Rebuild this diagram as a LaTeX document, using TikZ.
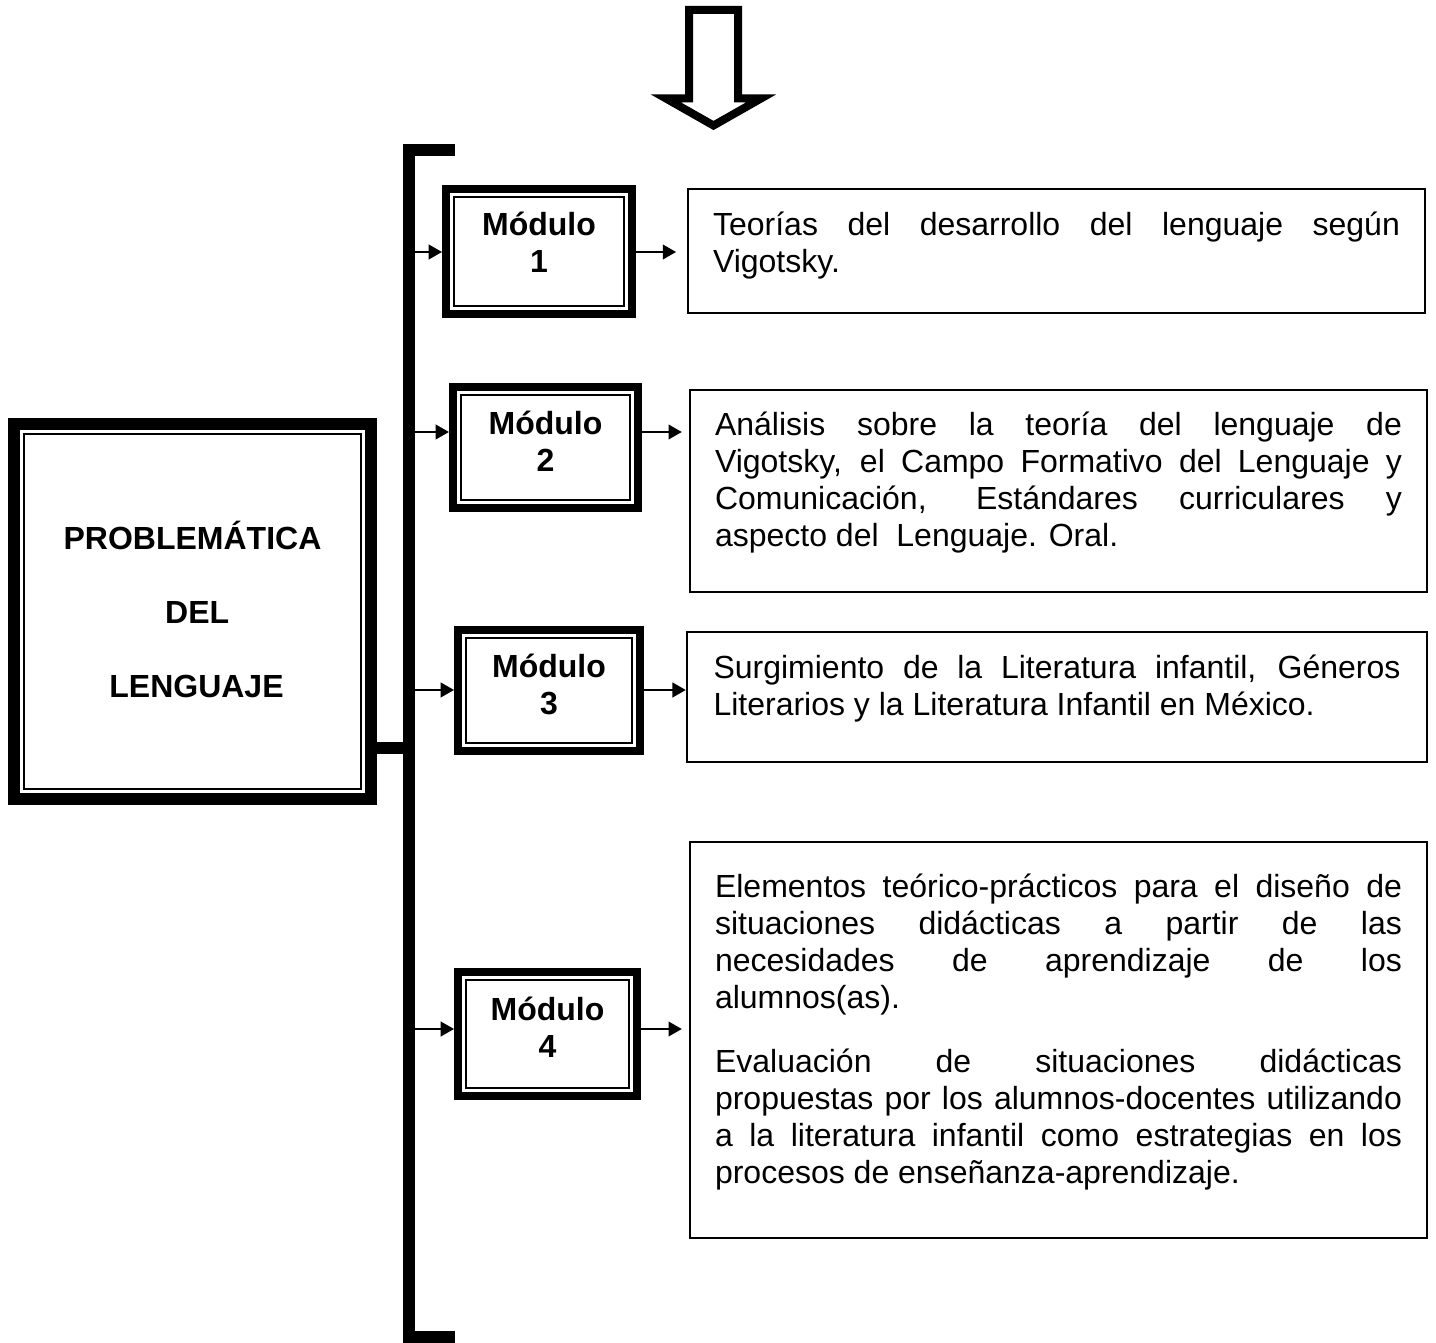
\documentclass[tikz,border=0pt]{standalone}
\usepackage{fontspec}
\setmainfont{Liberation Sans}
\usetikzlibrary{arrows.meta}

\tolerance=9999
\hyphenpenalty=10000
\exhyphenpenalty=10000

\tikzset{every picture/.style={line width=0.75pt}}
\tikzset{
  bigbox/.style={draw, line width=4.5pt, inner sep=0pt, align=center, text depth=2pt,
    font=\fontsize{12pt}{27.75pt}\selectfont\bfseries},
  modbox/.style={draw, line width=3pt, inner sep=0pt, align=center, text depth=5pt,
    font=\fontsize{12pt}{13.875pt}\selectfont\bfseries},
  textbox/.style={draw, line width=0.9pt, inner xsep=9.4pt, inner ysep=0pt,
    text width=257.6pt, align=justify, font=\fontsize{12pt}{13.875pt}\selectfont,
    execute at end node={\par\vspace*{#1}}},
  textbox/.default=6pt,
  thinline/.style={line width=0.75pt},
  arr/.style={line width=0.75pt, -{Triangle[length=5pt,width=5.5pt]}}
}

\begin{document}
\begin{tikzpicture}[x=0.75pt,y=0.75pt,yscale=-0.5,xscale=0.5]
\useasboundingbox (0,0) rectangle (1436,1343);

%Shape: Down Arrow
\draw [line width=3pt, line join=miter] (689,10) -- (738,10) -- (738,98.5) -- (761,98.5) -- (713.5,125.5) -- (666,98.5) -- (689,98.5) -- cycle ;
%Shape: Bracket
\draw [line width=4.5pt, line join=miter] (455,150) -- (409,150) -- (409,1337) -- (455,1337) ;

%Shape: Rectangle [problem]
\node [bigbox, minimum width=133.9pt, minimum height=140.6pt] (prob) at (192.5,611.5) {PROBLEMÁTICA\hspace{3.5pt}\\\hspace{3.5pt}DEL\\\hspace{3pt}LENGUAJE};
\draw [thinline] ([shift={(16,16)}]prob.north west) rectangle ([shift={(-16,-16)}]prob.south east) ;

%Shape: Rectangle [modules]
\node [modbox, minimum width=69.75pt, minimum height=46.9pt, text depth=7pt] (m1) at (539,251.5) {Módulo\\1};
\node [modbox, minimum width=69.4pt, minimum height=45.4pt] (m2) at (545.5,447.5) {Módulo\\2};
\node [modbox, minimum width=68.25pt, minimum height=45.4pt] (m3) at (549,690.5) {Módulo\\3};
\node [modbox, minimum width=67.1pt, minimum height=46.5pt] (m4) at (547.5,1034) {Módulo\\4};
\foreach \m in {m1,m2,m3,m4}
  \draw [thinline] ([shift={(12,12)}]\m.north west) rectangle ([shift={(-12,-12)}]\m.south east) ;

%Shape: Rectangle [contents]
% Text Node
\node [textbox=3.75pt, minimum height=46.5pt] (t1) at (1056.5,251) {Teorías del desarrollo del lenguaje según\linebreak Vigotsky.};
% Text Node
\node [textbox, minimum height=75.75pt] (t2) at (1058.5,491) {Análisis sobre la teoría del lenguaje de\linebreak Vigotsky, el Campo Formativo del Lenguaje y\linebreak Comunicación, Estándares curriculares y\linebreak aspecto del\ \ Lenguaje. Oral.};
% Text Node
\node [textbox, minimum width=277.5pt, minimum height=48.75pt] (t3) at (1057,697) {Surgimiento de la Literatura infantil, Géneros\linebreak Literarios y la Literatura Infantil en México.};
% Text Node
\node [textbox, minimum height=148.5pt] (t4) at (1058.5,1040) {Elementos teórico-prácticos para el diseño de\linebreak situaciones didácticas a partir de las\linebreak necesidades de aprendizaje de los\linebreak alumnos(as).\\[10pt]
Evaluación de situaciones didácticas\linebreak propuestas por los alumnos-docentes utilizando\linebreak a la literatura infantil como estrategias en los\linebreak procesos de enseñanza-aprendizaje.};

%Straight Lines
\coordinate (bj) at (409,748);
\coordinate (b1) at (409,252);
\coordinate (b2) at (409,432);
\coordinate (b3) at (409,690);
\coordinate (b4) at (409,1029);
\draw [line width=4.5pt] (prob.east |- bj) -- (bj) ;
\draw [arr] (b1) -- (b1 -| m1.west) ;
\draw [arr] (b2) -- (b2 -| m2.west) ;
\draw [arr] (b3) -- (b3 -| m3.west) ;
\draw [arr] (b4) -- (b4 -| m4.west) ;
\draw [arr, shorten >=4pt] (b1 -| m1.east) -- (b1 -| t1.west) ;
\draw [arr, shorten >=2.6pt] (b2 -| m2.east) -- (b2 -| t2.west) ;
\draw [arr] (b3 -| m3.east) -- (b3 -| t3.west) ;
\draw [arr, shorten >=2.6pt] (b4 -| m4.east) -- (b4 -| t4.west) ;

\end{tikzpicture}
\end{document}
